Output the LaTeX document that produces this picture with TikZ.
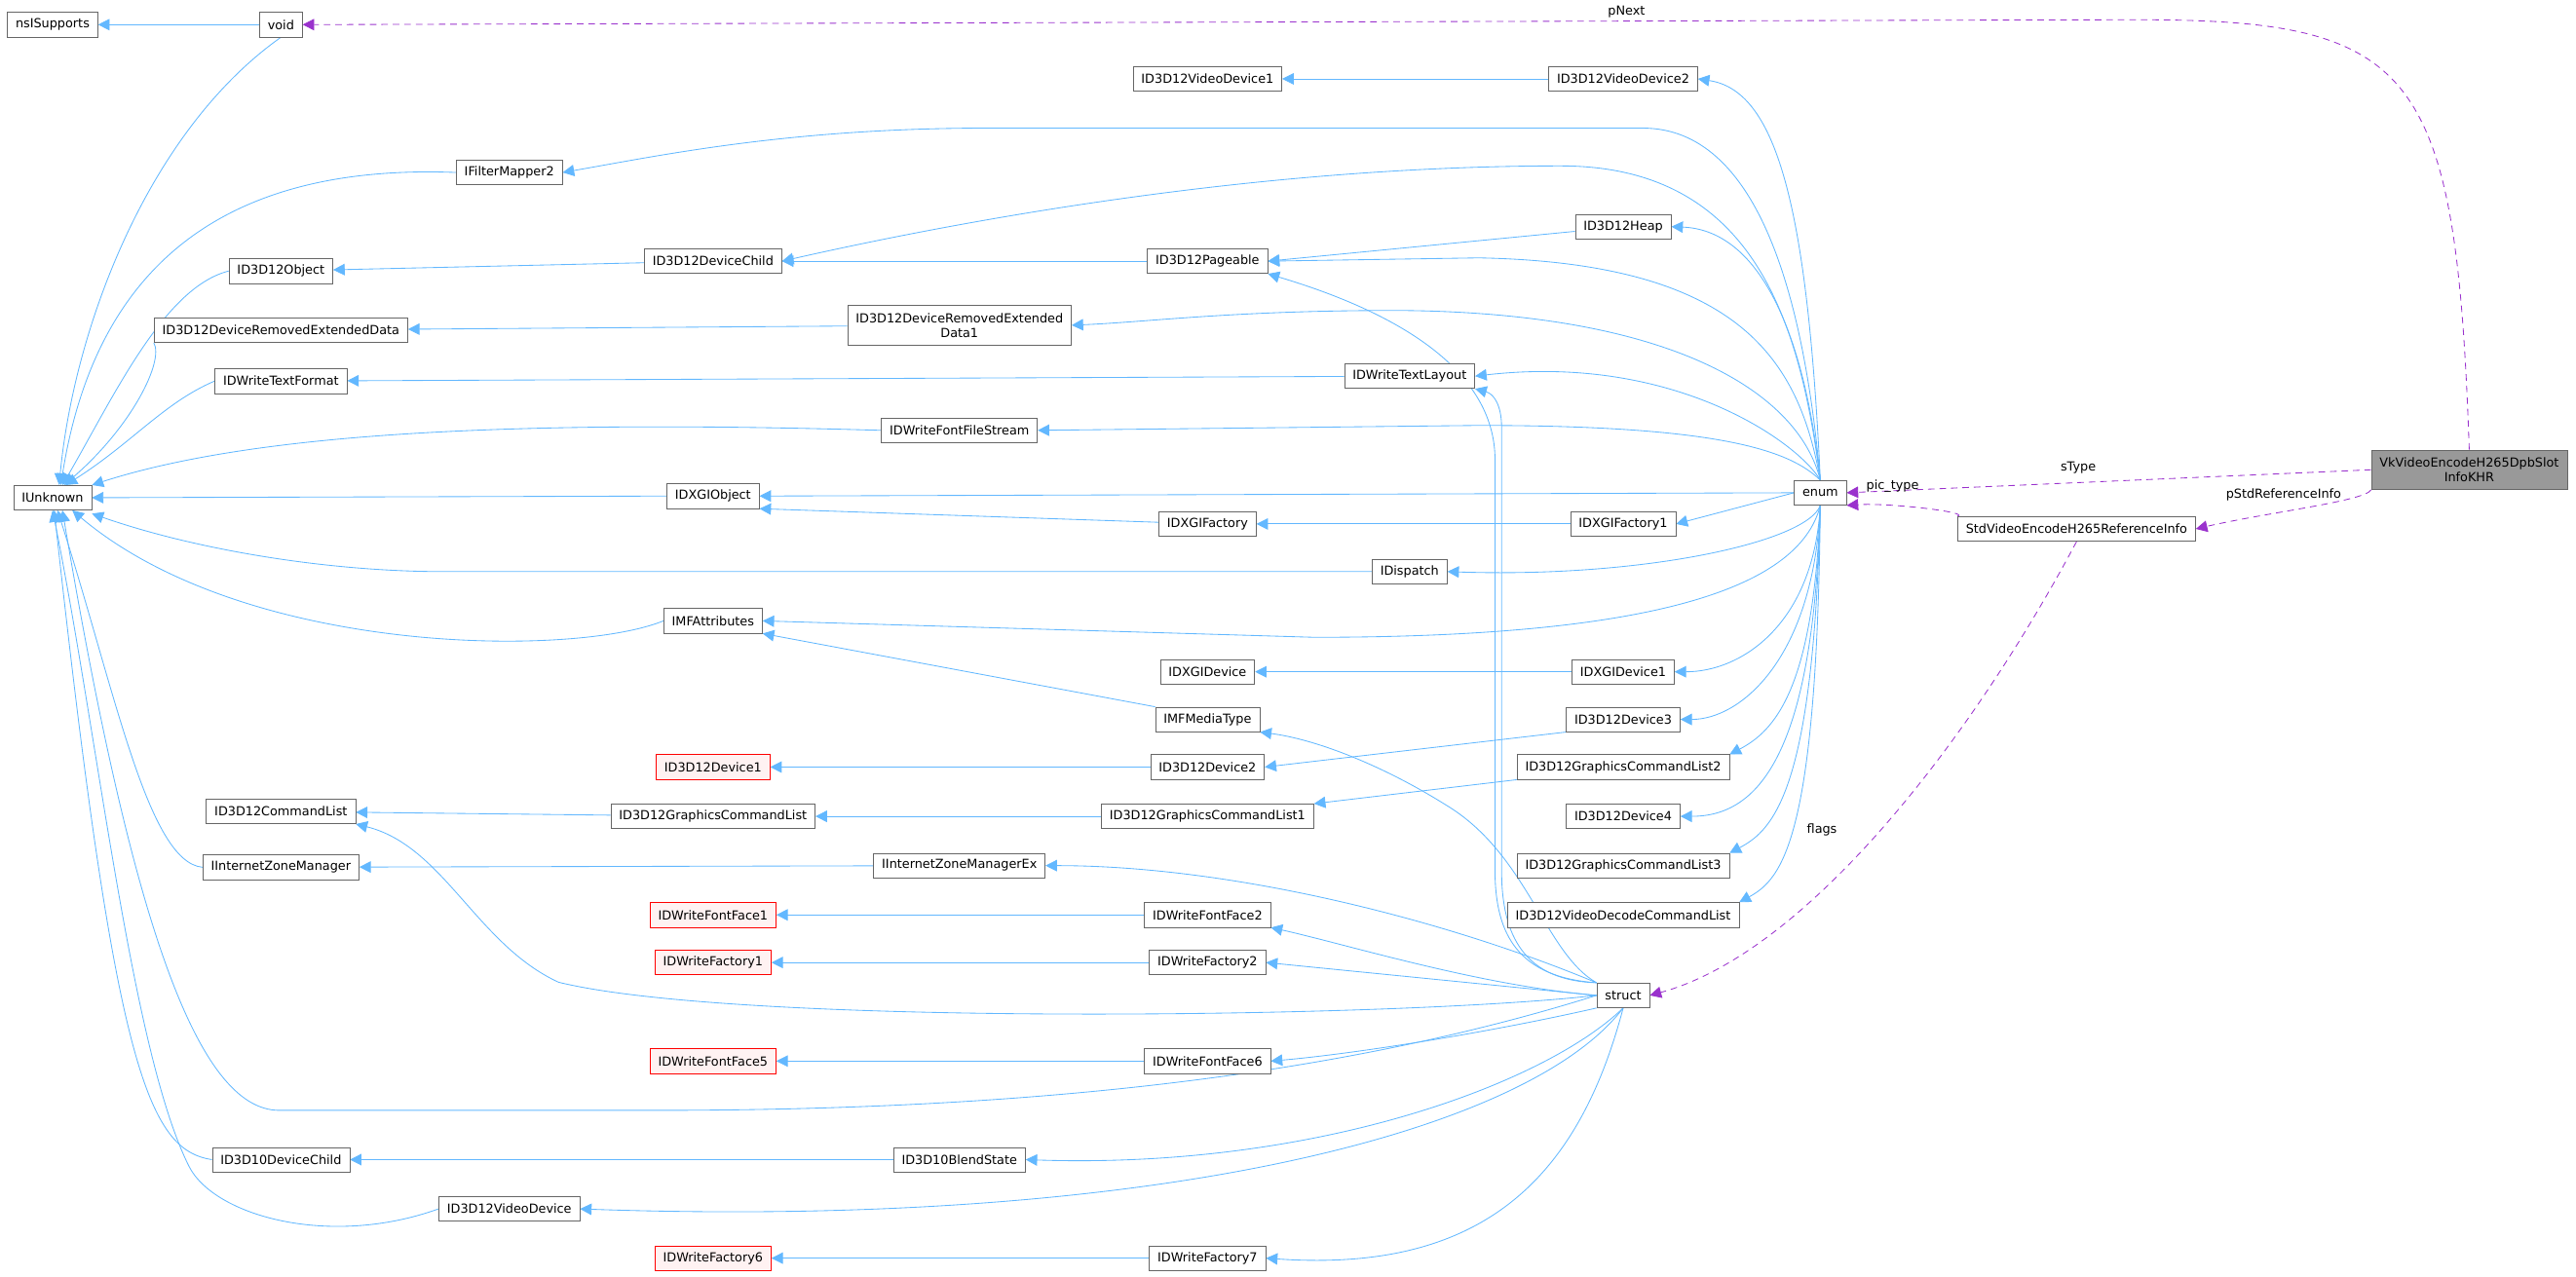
\documentclass[tikz,border=0pt]{standalone}
\usepackage{fontspec}
\setmainfont{DejaVu Sans}
\usetikzlibrary{arrows.meta,backgrounds}
\definecolor{eb}{RGB}{99,184,255}
\definecolor{ep}{RGB}{154,50,205}
\definecolor{bd}{RGB}{102,102,102}
\begin{document}
\begin{tikzpicture}[x=1pt,y=-1pt,
  n/.style={draw=bd,fill=white,font=\fontsize{7.6}{9}\selectfont,inner xsep=5pt,inner ysep=0pt,minimum height=15pt,align=center},
  r/.style={n,draw=red,fill=red!5},
  inh/.style={draw=eb,-{Triangle[length=7pt,width=7pt]},line width=0.5pt},
  mem/.style={draw=ep,dash pattern=on 4pt off 3pt,-{Triangle[length=7pt,width=7pt]},line width=0.5pt},
  lb/.style={font=\fontsize{7.6}{9}\selectfont}]
\useasboundingbox (0,0) rectangle (1568,777);
% nodes
\node[n] (nsi) at (32,15) {nsISupports};
\node[n] (iu) at (32,303) {IUnknown};
\node[n] (void) at (171,15) {void};
\node[n] (fm2) at (310,105) {IFilterMapper2};
\node[n] (obj) at (171,165) {ID3D12Object};
\node[n] (dch) at (434,159) {ID3D12DeviceChild};
\node[n] (dred) at (171,201) {ID3D12DeviceRemovedExtendedData};
\node[n,minimum height=24pt] (dred1) at (584,198) {ID3D12DeviceRemovedExtended\\Data1};
\node[n] (tf) at (171,232) {IDWriteTextFormat};
\node[n] (tl) at (858,229) {IDWriteTextLayout};
\node[n] (ffs) at (584,262) {IDWriteFontFileStream};
\node[n] (xo) at (434,302) {IDXGIObject};
\node[n] (xf) at (735,319) {IDXGIFactory};
\node[n] (xf1) at (988,319) {IDXGIFactory1};
\node[n] (disp) at (858,348) {IDispatch};
\node[n] (mfa) at (434,378) {IMFAttributes};
\node[n] (xd) at (735,409) {IDXGIDevice};
\node[n] (xd1) at (988,409) {IDXGIDevice1};
\node[n] (mft) at (735,438) {IMFMediaType};
\node[n] (d3) at (988,438) {ID3D12Device3};
\node[r] (d1) at (434,467) {ID3D12Device1};
\node[n] (d2) at (735,467) {ID3D12Device2};
\node[n] (gcl2) at (988,467) {ID3D12GraphicsCommandList2};
\node[n] (cl) at (171,494) {ID3D12CommandList};
\node[n] (gcl) at (434,497) {ID3D12GraphicsCommandList};
\node[n] (gcl1) at (735,497) {ID3D12GraphicsCommandList1};
\node[n] (d4) at (988,497) {ID3D12Device4};
\node[n] (izm) at (171,528) {IInternetZoneManager};
\node[n] (izmx) at (584,527) {IInternetZoneManagerEx};
\node[n] (gcl3) at (988,527) {ID3D12GraphicsCommandList3};
\node[r] (ff1) at (434,557) {IDWriteFontFace1};
\node[n] (ff2) at (735,557) {IDWriteFontFace2};
\node[n] (vdcl) at (988,557) {ID3D12VideoDecodeCommandList};
\node[r] (fa1) at (434,586) {IDWriteFactory1};
\node[n] (fa2) at (735,586) {IDWriteFactory2};
\node[n] (st) at (988,606) {struct};
\node[r] (ff5) at (434,646) {IDWriteFontFace5};
\node[n] (ff6) at (735,646) {IDWriteFontFace6};
\node[n] (d10) at (171,706) {ID3D10DeviceChild};
\node[n] (bs) at (584,706) {ID3D10BlendState};
\node[n] (vd) at (310,736) {ID3D12VideoDevice};
\node[r] (fa6) at (434,766) {IDWriteFactory6};
\node[n] (fa7) at (735,766) {IDWriteFactory7};
\node[n] (vd1) at (735,48) {ID3D12VideoDevice1};
\node[n] (vd2) at (988,48) {ID3D12VideoDevice2};
\node[n] (heap) at (988,138) {ID3D12Heap};
\node[n] (pg) at (735,159) {ID3D12Pageable};
\node[n] (en) at (1108,300) {enum};
\node[n] (sv) at (1264,322) {StdVideoEncodeH265ReferenceInfo};
\node[n,fill=black!40,minimum height=24pt] (vk) at (1503,286) {VkVideoEncodeH265DpbSlot\\InfoKHR};
\begin{scope}[on background layer]
% inheritance simple
\draw[inh] (void) -- (nsi);
\draw[inh] (dch) -- (obj);
\draw[inh] (pg) -- (dch);
\draw[inh] (heap) -- (pg.east);
\draw[inh] (dred1) -- (dred);
\draw[inh] (tl) -- (tf);
\draw[inh] (xf) -- (xo.south east);
\draw[inh] (xf1) -- (xf);
\draw[inh] (mft.north west) -- (mfa.south east);
\draw[inh] (xd1) -- (xd);
\draw[inh] (d2) -- (d1);
\draw[inh] (d3.south west) -- (d2.east);
\draw[inh] (gcl) -- (cl);
\draw[inh] (gcl1) -- (gcl);
\draw[inh] (gcl2.south west) -- (gcl1.north east);
\draw[inh] (izmx) -- (izm);
\draw[inh] (ff2) -- (ff1);
\draw[inh] (fa2) -- (fa1);
\draw[inh] (ff6) -- (ff5);
\draw[inh] (bs) -- (d10);
\draw[inh] (fa7) -- (fa6);
\draw[inh] (vd2) -- (vd1);
% to IUnknown
\draw[inh] (void.south) .. controls (90,80) and (45,200) .. ([xshift=4pt]iu.north);
\draw[inh] (fm2.west) .. controls (150,100) and (60,150) .. ([xshift=5pt]iu.north);
\draw[inh] (obj.west) .. controls (100,175) and (70,240) .. ([xshift=6pt]iu.north);
\draw[inh] (dred.south west) .. controls (100,220) and (80,260) .. ([xshift=7pt]iu.north);
\draw[inh] (tf.west) .. controls (100,245) and (80,270) .. ([xshift=8pt]iu.north);
\draw[inh] (ffs.west) .. controls (300,255) and (150,265) .. (iu.north east);
\draw[inh] (xo.west) -- (iu.east);
\draw[inh] (disp.west) -- (270,348) .. controls (200,348) and (120,335) .. ([yshift=-2pt]iu.south east);
\draw[inh] (mfa.west) .. controls (350,400) and (150,400) .. ([xshift=12pt]iu.south);
\draw[inh] (izm.west) .. controls (90,525) and (70,420) .. ([xshift=3pt]iu.south);
\draw[inh] (d10.west) .. controls (90,700) and (70,650) .. ([xshift=1pt]iu.south);
\draw[inh] (vd.west) .. controls (200,760) and (130,740) .. (115,710) .. controls (80,640) and (60,450) .. (iu.south);
\draw[inh] (st.west) .. controls (800,660) and (600,676) .. (400,676) -- (170,676) .. controls (120,676) and (80,560) .. ([xshift=6pt]iu.south);
% from enum
\draw[inh] (en.north) .. controls (1100,120) and (1080,55) .. (vd2.east);
\draw[inh] (en.north) .. controls (1098,180) and (1070,78) .. (1000,78) -- (600,78) .. controls (480,78) and (400,95) .. (fm2.east);
\draw[inh] (en.north) .. controls (1096,200) and (1070,101) .. (950,101) .. controls (750,101) and (560,140) .. (dch.east);
\draw[inh] (en.north) .. controls (1098,200) and (1070,140) .. (heap.east);
\draw[inh] (en.north) .. controls (1095,220) and (1060,160) .. (900,157) -- (pg.east);
\draw[inh] (en.north) .. controls (1095,240) and (1020,190) .. (850,189) .. controls (750,189) and (700,196) .. (dred1.east);
\draw[inh] (en.north) .. controls (1095,270) and (1020,215) .. (tl.east);
\draw[inh] (en.north) .. controls (1090,275) and (1050,259) .. (900,259) -- (ffs.east);
\draw[inh] (en.west) -- (xo.east);
\draw[inh] (en.west) -- (xf1.east);
\draw[inh] (en.south) .. controls (1100,330) and (1000,352) .. (disp.east);
\draw[inh] (en.south) .. controls (1095,360) and (1000,388) .. (800,388) -- (mfa.east);
\draw[inh] (en.south) .. controls (1104,380) and (1060,409) .. (xd1.east);
\draw[inh] (en.south) .. controls (1104,400) and (1060,438) .. (d3.east);
\draw[inh] (en.south) .. controls (1104,420) and (1080,445) .. (gcl2.north east);
\draw[inh] (en.south) .. controls (1104,460) and (1070,497) .. (d4.east);
\draw[inh] (en.south) .. controls (1104,480) and (1080,505) .. (gcl3.north east);
\draw[inh] (en.south) .. controls (1106,510) and (1085,535) .. (vdcl.north east);
% from struct
\draw[inh] (st.north west) .. controls (925,595) and (910,570) .. (910,530) -- (910,280) .. controls (910,225) and (850,190) .. (pg.south east);
\draw[inh] (st.north west) .. controls (928,597) and (914,570) .. (914,530) -- (914,260) .. controls (914,248) and (910,240) .. (tl.south east);
\draw[inh] (st.north west) .. controls (940,580) and (930,520) .. (880,490) .. controls (840,465) and (800,450) .. (mft.south east);
\draw[inh] (st.north west) .. controls (880,560) and (750,527) .. (izmx.east);
\draw[inh] (st.west) .. controls (900,600) and (820,575) .. (ff2.south east);
\draw[inh] (st.west) -- (fa2.east);
\draw[inh] (st.west) .. controls (850,620) and (450,625) .. (340,598) .. controls (290,575) and (270,515) .. (cl.south east);
\draw[inh] (st.south west) .. controls (900,630) and (820,642) .. (ff6.east);
\draw[inh] (st.south) .. controls (940,660) and (800,712) .. (bs.east);
\draw[inh] (st.south) .. controls (930,690) and (700,748) .. (vd.east);
\draw[inh] (st.south) .. controls (960,720) and (900,775) .. (fa7.east);
% members
\draw[mem] (vk.north) .. controls (1495,40) and (1470,12) .. (1300,12) -- (void.east);
\node[lb] at (990,7) {pNext};
\draw[mem] (vk.west) -- (en.east);
\node[lb] at (1265,285) {sType};
\draw[mem] (vk.south west) .. controls (1440,305) and (1380,312) .. (sv.east);
\node[lb] at (1390,301) {pStdReferenceInfo};
\draw[mem] (sv.north west) .. controls (1200,312) and (1150,306) .. (en.south east);
\node[lb] at (1152,296) {pic\_type};
\draw[mem] (sv.south) .. controls (1200,450) and (1100,580) .. (st.east);
\node[lb] at (1109,505) {flags};
\end{scope}
\end{tikzpicture}
\end{document}
